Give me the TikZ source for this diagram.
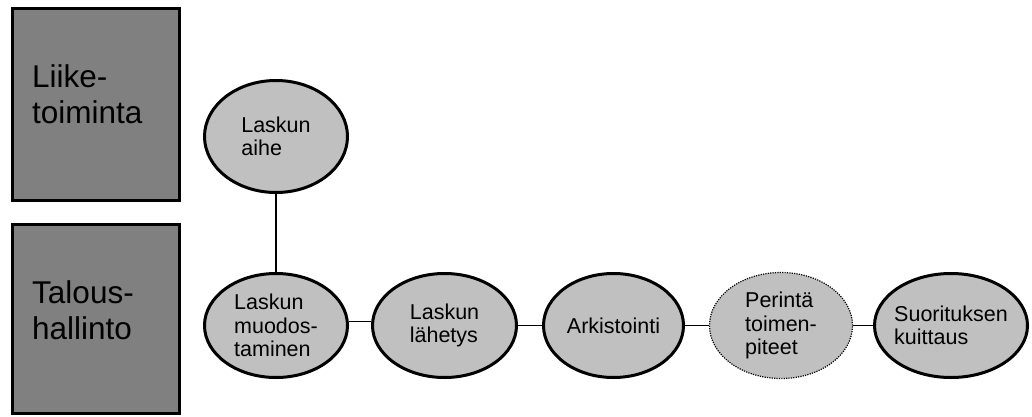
\documentclass[tikz,border=0pt]{standalone}
\usepackage{fontspec}
\setmainfont{Liberation Sans}
\usetikzlibrary{shapes.geometric}
\definecolor{lanegray}{RGB}{128,128,128}
\definecolor{taskgray}{RGB}{192,192,192}

\begin{document}
\begin{tikzpicture}[x=1pt,y=-1pt,
  lane/.style={rectangle, draw=black, fill=lanegray, line width=3pt, inner sep=0pt, minimum width=167pt},
  lanelabel/.style={anchor=north west, inner sep=0pt, align=left,
    font=\fontsize{31.5}{36}\selectfont},
  task/.style={ellipse, draw=black, fill=taskgray, line width=3pt, inner sep=0pt,
    align=left, font=\fontsize{21.5}{23.5}\selectfont,
    minimum width=143pt, minimum height=104pt},
  optional/.style={line width=1.2pt, dash pattern=on 1.2pt off 1.2pt},
  link/.style={draw=black, line width=1.8pt}]

\useasboundingbox (0,0) rectangle (1032,417);

% swim lanes
\node (liike) [lane, minimum height=192pt] at (96,104.5) {};
\node (talous) [lane, minimum height=189pt] at (96,319) {};
\node (liiketxt) [lanelabel] at (32,64) {Liike-\\toiminta};
\node (taloustxt) [lanelabel] at (32,280) {Talous-\\hallinto};

% process steps
\node (aihe) [task, minimum height=112pt] at (276,136.5) {Laskun\\aihe};
\node (muod) [task] at (276,325.5) {Laskun\\muodos-\\taminen};
\node (lah)  [task, minimum width=144pt] at (444.5,325.5) {Laskun\\lähetys};
\node (ark)  [task, minimum width=140pt] at (613.5,325.5) {Arkistointi};
\node (per)  [task, optional, minimum height=106pt] at (781,325.5) {Perintä\\toimen-\\piteet};
\node (suo)  [task, minimum width=153pt, inner xsep=-4pt] at (951,325.5) {Suorituksen\\kuittaus};

% connectors
\draw[link] (aihe) -- (muod);
\draw[link] ([yshift=4pt]muod.east) -- ([yshift=4pt]lah.west);
\draw[link] (lah) -- (ark);
\draw[link] (ark) -- (per);
\draw[link] (per) -- (suo);
\end{tikzpicture}
\end{document}
